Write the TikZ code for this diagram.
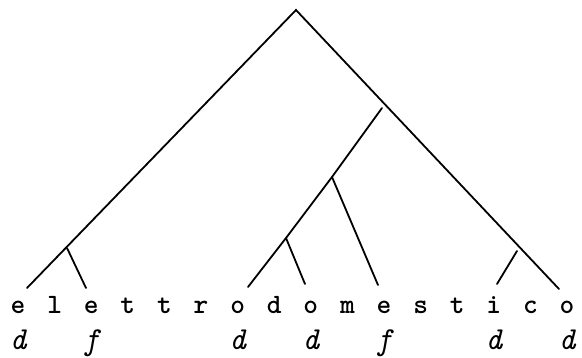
\documentclass[tikz,border=0pt]{standalone}
\usepackage{tikz}

\tikzset{
  letter/.style={anchor=base, inner sep=0pt, font=\fontsize{28}{30}\selectfont\ttfamily\bfseries},
  tag/.style={anchor=base, inner sep=0pt, font=\fontsize{32}{36}\selectfont\ttfamily\itshape},
  branch/.style={line width=1.8pt, line cap=round}
}

\begin{document}
\begin{tikzpicture}[x=1pt, y=-1pt]
  \useasboundingbox (0,0) rectangle (582,357);

  \foreach \c [count=\i from 0] in {e,l,e,t,t,r,o,d,o,m,e,s,t,i,c,o}
    \node[letter] (l\i) at ({18+36.6*\i},313) {\c};
  \foreach \i/\t in {0/d,2/f,6/d,8/d,10/f,13/d,15/d}
    \node[tag] (u\i) at ({18+36.6*\i},349) {\t};

  \coordinate (top) at (296,10);
  \coordinate (ja) at (67,248);
  \coordinate (jb) at (382,108);
  \coordinate (jc) at (332,177);
  \coordinate (jd) at (286,238);
  \coordinate (je) at (517,251);
  \coordinate (e0) at (27,288);
  \coordinate (e2) at (86,288);
  \coordinate (e6) at (248,287);
  \coordinate (e8) at (305,284);
  \coordinate (e10) at (378,285);
  \coordinate (e13) at (497,284);
  \coordinate (e15) at (559,289);

  \draw[branch] (e0) -- (top) -- (e15);
  \draw[branch] (ja) -- (e2);
  \draw[branch] (jb) -- (jc) -- (jd) -- (e6);
  \draw[branch] (jc) -- (e10);
  \draw[branch] (jd) -- (e8);
  \draw[branch] (je) -- (e13);
\end{tikzpicture}
\end{document}
